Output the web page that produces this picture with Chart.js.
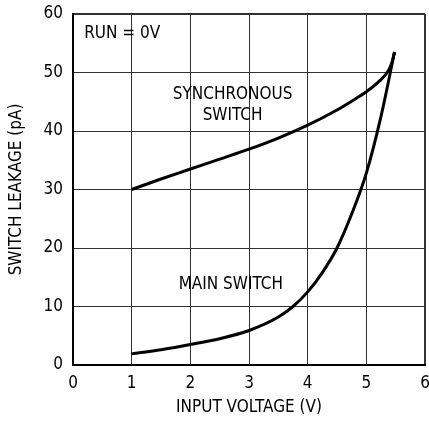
<!DOCTYPE html>
<html>
<head>
<meta charset="utf-8">
<script src="https://cdn.jsdelivr.net/npm/chart.js@4"></script>
<style>
  html, body { margin: 0; padding: 0; background: #fff; overflow: hidden; }
</style>
</head>
<body>
<canvas id="leakChart" width="429" height="421"></canvas>
<script>
// values (x = input voltage V, y = leakage pA)
const syncX = [1, 1.5, 2, 2.5, 3, 3.5, 4, 4.5, 4.75, 5, 5.23, 5.37, 5.44, 5.48];
const syncY = [30, 31.8, 33.5, 35.2, 36.9, 38.8, 41, 43.6, 45.1, 46.7, 48.6, 50.2, 51.8, 53.5];
const mainX = [1, 1.5, 2, 2.5, 3, 3.5, 3.75, 4, 4.25, 4.5, 4.75, 5, 5.25, 5.48];
const mainY = [1.9, 2.6, 3.5, 4.5, 5.9, 8.2, 10, 12.5, 15.8, 20, 25.8, 32.8, 42.5, 53.5];
const xTicks = [0, 1, 2, 3, 4, 5, 6];
const yTicks = [0, 10, 20, 30, 40, 50, 60];

// text labels placed in data units
const notes = [
    { text: 'RUN = 0V', x: 0.19, y: 56.7, align: 'left' },
    { text: 'SYNCHRONOUS', x: 2.72, y: 46.2, align: 'center' },
    { text: 'SWITCH', x: 2.72, y: 42.7, align: 'center' },
    { text: 'MAIN SWITCH', x: 2.69, y: 13.8, align: 'center' }
];

const FONT = "'Liberation Sans Narrow', 'DejaVu Sans Condensed', 'Liberation Sans', sans-serif";
const SIZE = 17;

function toPoints(xs, ys) {
    return xs.map((x, i) => ({ x: x, y: ys[i] }));
}

const notesPlugin = {
    id: 'notes',
    afterDatasetsDraw(chart) {
        const ctx = chart.ctx;
        const xs = chart.scales.x, ys = chart.scales.y;
        ctx.save();
        ctx.fillStyle = '#000';
        ctx.font = SIZE + 'px ' + FONT;
        ctx.textBaseline = 'middle';
        notes.forEach(n => {
            ctx.textAlign = n.align;
            ctx.fillText(n.text, xs.getPixelForValue(n.x), ys.getPixelForValue(n.y));
        });
        ctx.restore();
    }
};

const edgeWidth = (max) => (c) => (c.tick && c.tick.value === max ? 2 : 1);

new Chart(document.getElementById('leakChart'), {
    type: 'scatter',
    data: {
        datasets: [{
            label: 'Synchronous switch',
            data: toPoints(syncX, syncY),
            showLine: true,
            borderColor: '#000',
            borderWidth: 3,
            pointRadius: 0,
            cubicInterpolationMode: 'monotone'
        }, {
            label: 'Main switch',
            data: toPoints(mainX, mainY),
            showLine: true,
            borderColor: '#000',
            borderWidth: 3,
            pointRadius: 0,
            cubicInterpolationMode: 'monotone'
        }]
    },
    options: {
        responsive: false,
        animation: false,
        devicePixelRatio: 1,
        layout: { padding: { top: 14, right: 4, left: 0, bottom: 0 } },
        plugins: {
            legend: { display: false },
            tooltip: { enabled: false }
        },
        scales: {
            x: {
                type: 'linear',
                min: 0,
                max: 6,
                afterBuildTicks: (s) => { s.ticks = xTicks.map(v => ({ value: v })); },
                afterFit: (s) => { s.height = 56; s.paddingLeft = 0; s.paddingRight = 0; },
                grid: { color: '#333', lineWidth: edgeWidth(6), drawTicks: false },
                border: { color: '#000', width: 2 },
                ticks: { color: '#000', padding: 8, font: { family: FONT, size: SIZE } },
                title: {
                    display: true,
                    text: 'INPUT VOLTAGE (V)',
                    color: '#000',
                    font: { family: FONT, size: SIZE },
                    padding: { top: 0, bottom: 3 }
                }
            },
            y: {
                type: 'linear',
                min: 0,
                max: 60,
                afterBuildTicks: (s) => { s.ticks = yTicks.map(v => ({ value: v })); },
                afterFit: (s) => { s.width = 73; s.paddingTop = 0; s.paddingBottom = 0; },
                grid: { color: '#333', lineWidth: edgeWidth(60), drawTicks: false },
                border: { color: '#000', width: 2 },
                ticks: { color: '#000', padding: 10, font: { family: FONT, size: SIZE } },
                title: {
                    display: true,
                    text: 'SWITCH LEAKAGE (pA)',
                    color: '#000',
                    font: { family: FONT, size: SIZE },
                    padding: { top: 6, bottom: 0 }
                }
            }
        }
    },
    plugins: [notesPlugin]
});
</script>
</body>
</html>
